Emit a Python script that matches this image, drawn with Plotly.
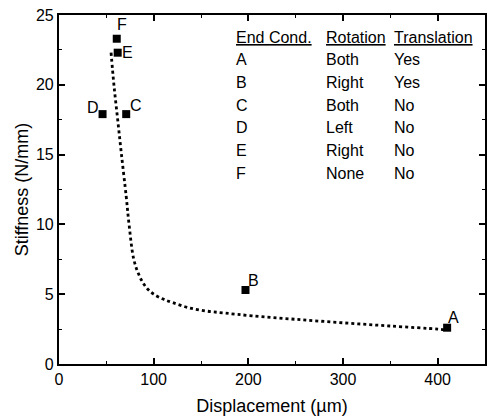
import plotly.graph_objects as go

# Measured end-condition points
labels = ["A", "B", "C", "D", "E", "F"]
disp_pts = [410, 197, 71, 46, 62, 61]
stiff_pts = [2.6, 5.3, 17.9, 17.9, 22.3, 23.3]

# Dotted model curve
curve_x = [55, 58, 62, 66, 71, 74, 79, 85, 92, 100, 110, 120, 136, 155, 175, 204, 250, 300, 350, 400, 407]
curve_y = [22.3, 20.0, 17.5, 15.0, 12.0, 10.0, 7.5, 6.3, 5.5, 5.0, 4.65, 4.4, 4.05, 3.8, 3.65, 3.45, 3.2, 2.95, 2.72, 2.5, 2.45]

# Table
table_headers = ["End Cond.", "Rotation", "Translation"]
end_cond = ["A", "B", "C", "D", "E", "F"]
rotation = ["Both", "Right", "Both", "Left", "Right", "None"]
translation = ["Yes", "Yes", "No", "No", "No", "No"]

# label offsets in pixels (style)
label_shift = {"A": (6, 10), "B": (8, 10), "C": (10, 9), "D": (-10, 7), "E": (10, 0), "F": (5, 14)}

font = "Liberation Sans, Arial, sans-serif"
tfont = dict(size=16, color="black", family=font)

fig = go.Figure()
fig.add_trace(go.Scatter(x=curve_x, y=curve_y, mode="lines",
                         line=dict(color="black", width=2.8, dash="dot", shape="spline"),
                         hoverinfo="skip", showlegend=False))
fig.add_trace(go.Scatter(x=disp_pts, y=stiff_pts, mode="markers",
                         marker=dict(symbol="square", size=8, color="black"),
                         showlegend=False))

for lab, x, y in zip(labels, disp_pts, stiff_pts):
    dx, dy = label_shift[lab]
    fig.add_annotation(x=x, y=y, text=lab, showarrow=False, xshift=dx, yshift=dy, font=tfont)

col_x = [185, 280, 352]
row_y0 = 23.4
row_dy = 1.62
for cx, h in zip(col_x, table_headers):
    fig.add_annotation(x=cx, y=row_y0, text="<u>%s</u>" % h, showarrow=False, xanchor="left", font=tfont)
for i, (e, r, t) in enumerate(zip(end_cond, rotation, translation)):
    yy = row_y0 - row_dy * (i + 1)
    for cx, s in zip(col_x, [e, r, t]):
        fig.add_annotation(x=cx, y=yy, text=s, showarrow=False, xanchor="left", font=tfont)

axis_common = dict(showline=True, linecolor="black", linewidth=2.2, mirror="ticks",
                   ticks="inside", ticklen=6, tickwidth=1.6, tickcolor="black",
                   showgrid=False, zeroline=False,
                   tickfont=dict(size=16, color="black", family=font))

fig.update_xaxes(range=[0, 450], dtick=100, tick0=0,
                 minor=dict(dtick=50, ticks="inside", ticklen=3, tickwidth=1.3, tickcolor="black"),
                 title=dict(text="Displacement (µm)", font=dict(size=18, color="black", family=font), standoff=12),
                 **axis_common)
fig.update_yaxes(range=[0, 25], dtick=5, tick0=0,
                 minor=dict(dtick=2.5, ticks="inside", ticklen=3, tickwidth=1.3, tickcolor="black"),
                 title=dict(text="Stiffness (N/mm)", font=dict(size=18, color="black", family=font), standoff=3),
                 **axis_common)

fig.update_layout(width=489, height=418, margin=dict(l=59, r=2, t=15, b=54),
                  plot_bgcolor="white", paper_bgcolor="white",
                  font=dict(family=font, color="black"))

fig.write_html("out.html")
